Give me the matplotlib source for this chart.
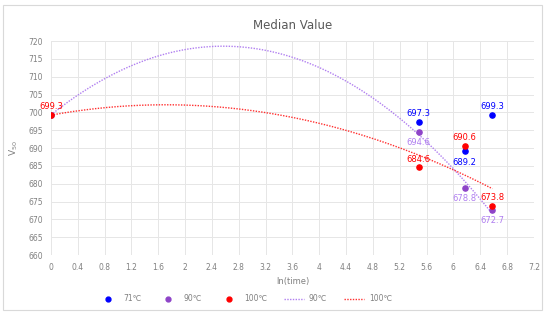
import numpy as np
import matplotlib
matplotlib.use("Agg")
import matplotlib.pyplot as plt
from matplotlib.lines import Line2D
from matplotlib.patches import Rectangle

# Data
x71 = [5.48, 6.17, 6.58]
y71 = [697.3, 689.2, 699.3]
x90 = [0.0, 5.48, 6.17, 6.58]
y90 = [699.3, 694.6, 678.8, 672.7]
x100 = [0.0, 5.48, 6.17, 6.58]
y100 = [699.3, 684.6, 690.6, 673.8]
xticks = [0, 0.4, 0.8, 1.2, 1.6, 2, 2.4, 2.8, 3.2, 3.6, 4, 4.4, 4.8, 5.2, 5.6, 6, 6.4, 6.8, 7.2]
yticks = list(range(660, 721, 5))

c71 = "#0000FF"
c90 = "#8E44C8"
c100 = "#FF0000"
c90l = "#B07FF0"
c100l = "#FF3030"
tc = "#808080"

fig = plt.figure(figsize=(5.45, 3.13), dpi=100)
fig.patches.append(Rectangle((0.006, 0.01), 0.988, 0.975, transform=fig.transFigure,
                             fill=False, edgecolor="#D9D9D9", linewidth=0.8))
ax = fig.add_axes([0.0936, 0.185, 0.886, 0.684])

# trend lines (2nd order polynomial)
p90 = np.polyfit(x90, y90, 2)
p100 = np.polyfit(x100, y100, 2)
xs = np.linspace(0, max(x90), 200)
ax.plot(xs, np.polyval(p90, xs), color=c90l, linestyle=(0, (1, 1)), linewidth=1.0, zorder=2)
ax.plot(xs, np.polyval(p100, xs), color=c100l, linestyle=(0, (1, 1)), linewidth=1.0, zorder=2)

ax.scatter(x71, y71, color=c71, s=14, zorder=3)
ax.scatter(x90, y90, color=c90, s=14, zorder=3)
ax.scatter(x100, y100, color=c100, s=14, zorder=4)

fs = 6
for i, (x, y) in enumerate(zip(x71, y71)):
    dy = -3.2 if i == 1 else 2.3
    ax.text(x, y + dy, f"{y:.1f}", color=c71, fontsize=fs, ha="center", va="center")
for i, (x, y) in enumerate(zip(x90, y90)):
    if i == 0:
        continue
    ax.text(x, y - 3.0, f"{y:.1f}", color=c90l, fontsize=fs, ha="center", va="center")
for i, (x, y) in enumerate(zip(x100, y100)):
    ax.text(x, y + 2.3, f"{y:.1f}", color=c100, fontsize=fs, ha="center", va="center")

ax.set_xlim(0, 7.2)
ax.set_ylim(660, 720)
ax.set_xticks(xticks)
ax.set_xticklabels([f"{t:g}" for t in xticks])
ax.set_yticks(yticks)
ax.grid(True, color="#E6E6E6", linewidth=0.7)
ax.set_axisbelow(True)
for s in ax.spines.values():
    s.set_visible(False)
ax.tick_params(length=0, labelsize=5.5, colors=tc, pad=6)
ax.set_xlabel("ln(time)", fontsize=6, color=tc, labelpad=3)
ax.set_ylabel("V$_{50}$", fontsize=6.5, color=tc, labelpad=6)
ax.set_title("Median Value", fontsize=8.5, color="#595959", pad=9)

handles = [
    Line2D([], [], marker="o", color=c71, linestyle="none", markersize=3.5),
    Line2D([], [], marker="o", color=c90, linestyle="none", markersize=3.5),
    Line2D([], [], marker="o", color=c100, linestyle="none", markersize=3.5),
    Line2D([], [], color=c90l, linestyle=(0, (1, 1)), linewidth=1.0),
    Line2D([], [], color=c100l, linestyle=(0, (1, 1)), linewidth=1.0),
]
labels = ["71\u2103", "90\u2103", "100\u2103", "90\u2103", "100\u2103"]
fig.legend(handles, labels, loc="center", bbox_to_anchor=(0.45, 0.045), ncol=5,
           frameon=False, fontsize=5.5, labelcolor=tc, columnspacing=2.2,
           handlelength=2.6, handletextpad=0.7)

fig.savefig("out.png", dpi=100)
